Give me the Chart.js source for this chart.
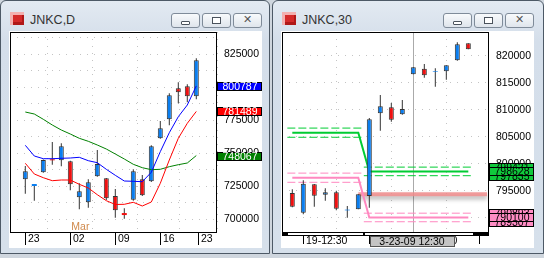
<!DOCTYPE html>
<html>
<head>
<meta charset="utf-8">
<script src="https://cdn.jsdelivr.net/npm/chart.js@4"></script>
<style>
  body { margin: 0; width: 544px; height: 258px; background: #cfd6de; position: relative; overflow: hidden; font-family: 'Liberation Sans', Arial, sans-serif; }
  .win { position: absolute; top: 0; height: 252px; border: 1px solid #4d5966; border-radius: 6px 6px 0 0;
         background: linear-gradient(#e3eaf2, #d4deea 40px, #d6e0eb); box-sizing: content-box; }
  .icon { position: absolute; left: 9px; top: 11px; width: 14px; height: 13px; background: #d42a2a;
          box-shadow: inset 3px 3px 0 #f3b0b0, inset -2px -3px 0 #b01818; }
  .title { position: absolute; left: 29px; top: 12px; font-size: 12.5px; color: #333; line-height: 14px; }
  .btn { position: absolute; top: 12px; width: 27px; height: 13px; border: 1px solid #7f8b99; border-radius: 3px;
         background: linear-gradient(#f8fafc, #dfe5ec); }
  .btn i { position: absolute; display: block; border: 1px solid #4a525c; background: #fff; }
  .btn .mn { left: 9px; top: 7px; width: 7px; height: 2px; border-radius: 1px; }
  .btn .rs { left: 9px; top: 3px; width: 7px; height: 5px; }
  .btn .cl { left: 0; top: -1px; width: 27px; text-align: center; border: 0; background: none; font: 11px 'DejaVu Sans'; color: #555; font-style: normal; line-height: 14px; }
  .client { position: absolute; left: 8px; top: 30px; width: 253px; height: 217px; background: #fff; }
  canvas { display: block; }
</style>
</head>
<body>
<div class="win" style="left:0; width:268px;">
  <div class="icon"></div>
  <div class="title">JNKC,D</div>
  <div class="btn" style="left:170px"><i class="mn"></i></div>
  <div class="btn" style="left:201px"><i class="rs"></i></div>
  <div class="btn" style="left:232px"><i class="cl">✕</i></div>
  <div class="client"><canvas id="daily" width="253" height="217"></canvas></div>
</div>
<div class="win" style="left:272px; width:270px;">
  <div class="icon"></div>
  <div class="title">JNKC,30</div>
  <div class="btn" style="left:170px"><i class="mn"></i></div>
  <div class="btn" style="left:201px"><i class="rs"></i></div>
  <div class="btn" style="left:232px"><i class="cl">✕</i></div>
  <div class="client"><canvas id="m30" width="253" height="217"></canvas></div>
</div>
<script>
// ---- daily chart data (JNKC,D) ----
const dailyOpen  = [730076, 725000, 735379, 745227, 744470, 743712, 716439, 712652, 732348, 730833,
                    717424, 704500, 714621, 730076, 728561, 761136, 775530, 799015, 800530, 792955];
const dailyHigh  = [740152, 726500, 745000, 758333, 757348, 744200, 727045, 730076, 752273, 731000,
                    722727, 708106, 737652, 733333, 755833, 774242, 795227, 803561, 802045, 821742];
const dailyLow   = [719167, 713864, 735000, 741136, 739924, 721742, 707348, 708561, 732000, 714394,
                    700985, 700227, 713864, 717500, 728000, 760800, 770985, 787652, 788409, 790682];
const dailyClose = [736136, 726500, 744697, 744470, 755076, 726288, 720985, 727803, 741667, 715682,
                    706591, 703000, 736136, 717955, 755076, 768712, 793712, 795985, 792955, 820227];
const maBlue  = [755833, 747727, 745682, 745682, 745985, 746212, 746742, 744167, 742652, 737652,
                 733106, 728788, 728561, 728258, 735379, 751015, 765379, 777500, 786364, 800787];
const maRed   = [742197, 734091, 731288, 729015, 729545, 729545, 726288, 723485, 718409, 713864,
                 711000, 711136, 712652, 709848, 712879, 727045, 744697, 761136, 772500, 781489];
const maGreen = [781061, 779545, 775530, 771212, 767424, 764394, 761136, 758864, 756061, 753030,
                 749242, 745455, 741439, 738864, 737348, 737652, 739621, 741136, 742424, 748067];
const dailyDates = ['23', '02', '09', '16', '23'];
const dailyDateAt = [0, 5, 10, 15, 19.2];
const dailyLabels = [700000, 725000, 750000, 775000, 800000, 825000];
const dailyGrid = [700000, 712500, 725000, 737500, 750000, 762500, 775000, 787500, 800000, 812500, 825000, 837500];
const dailyTags = [800787, 781489, 748067];

// ---- 30 minute chart data (JNKC,30) ----
const m30Open  = [794630, 790981, 796241, 794315, 794759, 791420, 791611, 794074, 809389, 810500,
                  809204, 816611, 817648, 817110, 817167, 819204, 822352];
const m30High  = [795315, 796981, 796300, 795500, 795056, 792222, 794389, 808519, 812778, 811296,
                  811852, 817907, 818519, 817722, 818300, 822537, 822352];
const m30Low   = [792000, 790685, 792093, 793204, 791426, 790056, 791611, 791907, 806167, 807833,
                  809100, 816611, 815981, 814315, 815611, 819100, 821241];
const m30Close = [792093, 796352, 794130, 794759, 791722, 791540, 794389, 808278, 810685, 808204,
                  810185, 817907, 816426, 817220, 818278, 822167, 821241];
const greenMid = [805796, 805796, 805796, 805796, 805796, 805796, 805796, 798628, 798628, 798628,
                  798628, 798628, 798628, 798628, 798628, 798628, 798628];
const pinkMid  = [797463, 797463, 797463, 797463, 797463, 797463, 797463, 790100, 790100, 790100,
                  790100, 790100, 790100, 790100, 790100, 790100, 790100];
const greenUpper = [806650, 799421];
const greenLower = [804950, 797835];
const pinkUpper  = [798310, 790893];
const pinkLower  = [796610, 789307];
const bandSpans  = [[-0.45, 6.45], [6.5, 16.4]];
const hLine = 794389;
const hLineSpan = [6, 17.7];
const crossAt = 11;
const m30Grid = [790000, 795000, 800000, 805000, 810000, 815000, 820000];
const m30TimeAt = [1, 7, 11, 17];
const m30Times = ['19-12:30', '19-15:30', '19-17:30', ''];

const BLUE = '#0a7ef0';
const RED = '#f01010';
const EDGE = '#333';
const FONT = { family: 'Liberation Sans', size: 10.5 };

const charts = {
  instances: {},

  candleSets(open, high, low, close, doji) {
    const up = i => close[i] >= open[i];
    return [
      {
        type: 'bar', order: 5, grouped: false, barThickness: 1, inflateAmount: 0,
        data: open.map((o, i) => ({ x: i, y: [low[i], high[i]] })),
        backgroundColor: EDGE,
      },
      {
        type: 'bar', order: 4, grouped: false, barThickness: 5, inflateAmount: 0, borderSkipped: false,
        data: open.map((o, i) => ({ x: i, y: [o, close[i]] })),
        backgroundColor: c => (up(c.dataIndex) ? BLUE : RED),
        borderColor: EDGE,
        borderWidth: c => (Math.abs(open[c.dataIndex] - close[c.dataIndex]) <= doji ? 0 : 1),
      },
    ];
  },

  line(values, color, width, extra = {}) {
    return {
      type: 'line', order: 1, data: values, borderColor: color, borderWidth: width,
      pointRadius: 0, tension: 0, spanGaps: false, ...extra,
    };
  },

  band(pair, color) {
    const [a, b] = bandSpans;
    return this.line([
      { x: a[0], y: pair[0] }, { x: a[1], y: pair[0] }, { x: a[1] + 0.01, y: null },
      { x: b[0], y: pair[1] }, { x: b[1], y: pair[1] },
    ], color, 1, { borderDash: [8, 3] });
  },

  scales(xr, yr, xTicks, yTicks, yLabels) {
    return {
      x: {
        type: 'linear', min: xr[0], max: xr[1], offset: false,
        afterBuildTicks: s => { s.ticks = xTicks.map(v => ({ value: v })); },
        afterFit: s => { s.height = 16; s.paddingLeft = 0; s.paddingRight = 0; },
        ticks: { display: false },
        grid: { color: '#c4c4c4', drawTicks: false },
        border: { display: false, dash: [1, 6] },
      },
      y: {
        position: 'right', min: yr[0], max: yr[1],
        afterBuildTicks: s => { s.ticks = yTicks.map(v => ({ value: v })); },
        afterFit: s => { s.width = 45; s.paddingTop = 0; s.paddingBottom = 0; },
        ticks: {
          color: '#000', font: FONT, padding: 7, autoSkip: false,
          callback: v => (yLabels.includes(v) ? String(v) : ''),
        },
        grid: { color: '#c4c4c4', drawTicks: false },
        border: { display: false, dash: [1, 6] },
      },
    };
  },

  tag(ctx, area, y, value, fill, text) {
    ctx.fillStyle = fill;
    ctx.fillRect(area.right, Math.round(y) - 4, 45, 9);
    ctx.strokeStyle = '#000';
    ctx.lineWidth = 1;
    ctx.strokeRect(area.right + 0.5, Math.round(y) - 3.5, 44, 8);
    ctx.fillStyle = text;
    ctx.font = '10.5px Liberation Sans';
    ctx.textAlign = 'center';
    ctx.textBaseline = 'middle';
    ctx.fillText(String(value), area.right + 23, Math.round(y) + 1);
  },

  frame(ctx, a) {
    ctx.strokeStyle = '#000';
    ctx.lineWidth = 1;
    ctx.strokeRect(a.left + 0.5, a.top + 0.5, a.right - a.left - 1, a.bottom - a.top);
  },

  create(id, datasets, scales, plugin) {
    const el = document.getElementById(id);
    if (!el) return;
    if (this.instances[id]) this.instances[id].destroy();
    this.instances[id] = new Chart(el, {
      data: { datasets },
      options: {
        responsive: false, animation: false, devicePixelRatio: 1,
        layout: { padding: { left: 1, top: 1, right: 0, bottom: 0 } },
        plugins: { legend: { display: false }, tooltip: { enabled: false } },
        scales,
      },
      plugins: [plugin],
    });
  },
};

// daily chart
charts.create('daily', [
  charts.line(maBlue.map((v, i) => ({ x: i, y: v })), '#0000ff', 1),
  charts.line(maRed.map((v, i) => ({ x: i, y: v })), '#ff0000', 1),
  charts.line(maGreen.map((v, i) => ({ x: i, y: v })), '#008000', 1),
  ...charts.candleSets(dailyOpen, dailyHigh, dailyLow, dailyClose, 1600),
], charts.scales([-1.7, 21.3], [690152, 841667], dailyDateAt, dailyGrid, dailyLabels), {
  id: 'dailyExtras',
  afterDraw(chart) {
    const { ctx, chartArea: a, scales: { x, y } } = chart;
    ctx.save();
    charts.frame(ctx, a);
    ctx.font = '10.5px Liberation Sans';
    ctx.textBaseline = 'middle';
    ctx.textAlign = 'left';
    dailyDateAt.forEach((p, i) => {
      const px = Math.round(x.getPixelForValue(p)) + 0.5;
      ctx.strokeStyle = '#000';
      ctx.beginPath(); ctx.moveTo(px, a.bottom); ctx.lineTo(px, a.bottom + 13); ctx.stroke();
      ctx.fillStyle = '#000';
      ctx.fillText(dailyDates[i], px + 2.5, a.bottom + 7.5);
    });
    ctx.fillStyle = '#d08a4c';
    ctx.fillText('Mar', x.getPixelForValue(dailyDateAt[1]) + 1, a.bottom - 5);
    const colors = ['#0000ff', '#ff0000', '#008000'];
    dailyTags.forEach((v, i) => charts.tag(ctx, a, y.getPixelForValue(v), v, colors[i], '#fff'));
    ctx.restore();
  },
});

// 30 minute chart
charts.create('m30', [
  ...charts.candleSets(m30Open, m30High, m30Low, m30Close, 200),
  charts.line(greenMid.map((v, i) => ({ x: i, y: v })), '#00cc33', 2, { order: 6 }),
  { ...charts.band(greenUpper, '#00cc33'), order: 6 },
  { ...charts.band(greenLower, '#00cc33'), order: 6 },
  charts.line(pinkMid.map((v, i) => ({ x: i, y: v })), '#ff88c0', 2, { order: 6 }),
  { ...charts.band(pinkUpper, '#ff88c0'), order: 6 },
  { ...charts.band(pinkLower, '#ff88c0'), order: 6 },
  charts.line(hLineSpan.map(p => ({ x: p, y: hLine })), 'rgba(240,140,140,0.85)', 4, { order: 7, hShadow: true }),
], charts.scales([-0.936, 17.88], [787407, 824444], m30TimeAt, m30Grid, m30Grid), {
  id: 'm30Extras',
  beforeDatasetsDraw(chart) {
    const { ctx, chartArea: a, scales: { x } } = chart;
    const px = Math.round(x.getPixelForValue(crossAt)) + 0.5;
    ctx.save();
    ctx.strokeStyle = '#aaaaaa';
    ctx.beginPath(); ctx.moveTo(px, a.top); ctx.lineTo(px, a.bottom); ctx.stroke();
    ctx.restore();
  },
  beforeDatasetDraw(chart, args) {
    if (!chart.data.datasets[args.index].hShadow) return;
    const ctx = chart.ctx;
    ctx.save();
    ctx.shadowColor = 'rgba(0,0,0,0.35)';
    ctx.shadowBlur = 4;
    ctx.shadowOffsetY = 3;
  },
  afterDatasetDraw(chart, args) {
    if (chart.data.datasets[args.index].hShadow) chart.ctx.restore();
  },
  afterDraw(chart) {
    const { ctx, chartArea: a, scales: { x, y } } = chart;
    ctx.save();
    charts.frame(ctx, a);
    // bottom strip with the visible-range markers
    ctx.fillStyle = '#000';
    ctx.fillRect(a.left, a.bottom, a.right - a.left, 4);
    ctx.fillStyle = '#fff';
    bandSpans.forEach(s => {
      const x0 = x.getPixelForValue(s[0] + 0.1), x1 = x.getPixelForValue(s[1]);
      ctx.fillRect(Math.round(x0), a.bottom + 1, Math.round(x1 - x0), 2);
    });
    ctx.font = '10.5px Liberation Sans';
    ctx.textBaseline = 'middle';
    ctx.textAlign = 'left';
    m30TimeAt.forEach((p, i) => {
      const px = Math.round(x.getPixelForValue(p)) + 0.5;
      ctx.strokeStyle = '#000';
      ctx.beginPath(); ctx.moveTo(px, a.bottom + 4); ctx.lineTo(px, a.bottom + 12); ctx.stroke();
      ctx.fillStyle = '#000';
      ctx.fillText(m30Times[i], px + 2.5, a.bottom + 9);
    });
    // crosshair date box
    const cx = x.getPixelForValue(crossAt);
    ctx.fillStyle = '#c4c4c4';
    ctx.fillRect(Math.round(cx) - 43, a.bottom + 4, 85, 11);
    ctx.strokeStyle = '#555';
    ctx.strokeRect(Math.round(cx) - 42.5, a.bottom + 4.5, 84, 10);
    ctx.fillStyle = '#000';
    ctx.textAlign = 'center';
    ctx.fillText('3-23-09 12:30', Math.round(cx) - 1, a.bottom + 10);
    // price tags
    const G = '#10c83c', P = '#ff8cc4';
    charts.tag(ctx, a, y.getPixelForValue(greenUpper[1]), greenUpper[1], G, '#000');
    charts.tag(ctx, a, y.getPixelForValue(greenLower[1]), greenLower[1], G, '#000');
    charts.tag(ctx, a, y.getPixelForValue(greenMid[16]), greenMid[16], G, '#000');
    charts.tag(ctx, a, y.getPixelForValue(pinkUpper[1]), pinkUpper[1], P, '#000');
    charts.tag(ctx, a, y.getPixelForValue(pinkLower[1]), pinkLower[1], P, '#000');
    charts.tag(ctx, a, y.getPixelForValue(pinkMid[16]), pinkMid[16], P, '#000');
    ctx.restore();
  },
});
</script>
</body>
</html>
